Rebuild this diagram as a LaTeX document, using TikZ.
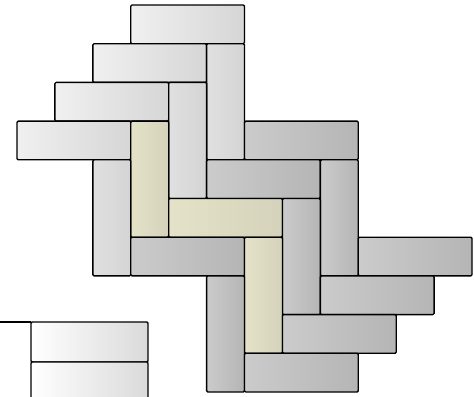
\documentclass[tikz,border=0pt]{standalone}
\begin{document}
\begin{tikzpicture}[x=37.92pt,y=-38.7pt,
  brick/.style={draw=black,line width=1.35pt,rounded corners=1.2pt,line join=round},
  lite/.style={brick,left color=colAL,right color=colAR},
  litev/.style={brick,left color=colVL,right color=colVR},
  dark/.style={brick,left color=colBL,right color=colBR},
  beige/.style={brick,left color=colCL,right color=colCR},
  pale/.style={brick,left color=white,right color=colDR}]
\definecolor{colAL}{HTML}{F0F0F0}
\definecolor{colAR}{HTML}{D6D6D6}
\definecolor{colVL}{HTML}{E0E0E0}
\definecolor{colVR}{HTML}{D4D4D4}
\definecolor{colBL}{HTML}{CBCBCB}
\definecolor{colBR}{HTML}{B5B5B5}
\definecolor{colCL}{HTML}{E4E2C8}
\definecolor{colCR}{HTML}{D4D2BA}
\definecolor{colDR}{HTML}{DADADA}
\useasboundingbox (-0.4483,-0.1292) rectangle (12.0517,10.129);
\clip (-0.4483,-0.1292) rectangle (12.0517,10.129);
% top-left horizontal bricks
\draw[lite] (3,0) rectangle (6,1);
\draw[lite] (2,1) rectangle (5,2);
\draw[lite] (1,2) rectangle (4,3);
\draw[lite] (0,3) rectangle (3,4);
% top-left vertical bricks
\draw[litev] (5,1) rectangle (6,4);
\draw[litev] (4,2) rectangle (5,5);
\draw[beige] (3,3) rectangle (4,6);
\draw[litev] (2,4) rectangle (3,7);
% middle horizontal bricks
\draw[dark] (6,3) rectangle (9,4);
\draw[dark] (5,4) rectangle (8,5);
\draw[beige] (4,5) rectangle (7,6);
\draw[dark] (3,6) rectangle (6,7);
% right vertical bricks
\draw[dark] (8,4) rectangle (9,7);
\draw[dark] (7,5) rectangle (8,8);
\draw[beige] (6,6) rectangle (7,9);
\draw[dark] (5,7) rectangle (6,10);
% bottom-right horizontal bricks
\draw[dark] (9,6) rectangle (12,7);
\draw[dark] (8,7) rectangle (11,8);
\draw[dark] (7,8) rectangle (10,9);
\draw[dark] (6,9) rectangle (9,10);
% bottom-left partial bricks
\draw[line width=1.35pt] (-0.6,8.19) -- (0.369,8.19);
\draw[pale] (0.369,8.19) rectangle (3.455,9.225);
\draw[pale] (0.369,9.225) rectangle (3.455,10.6);
\end{tikzpicture}
\end{document}
